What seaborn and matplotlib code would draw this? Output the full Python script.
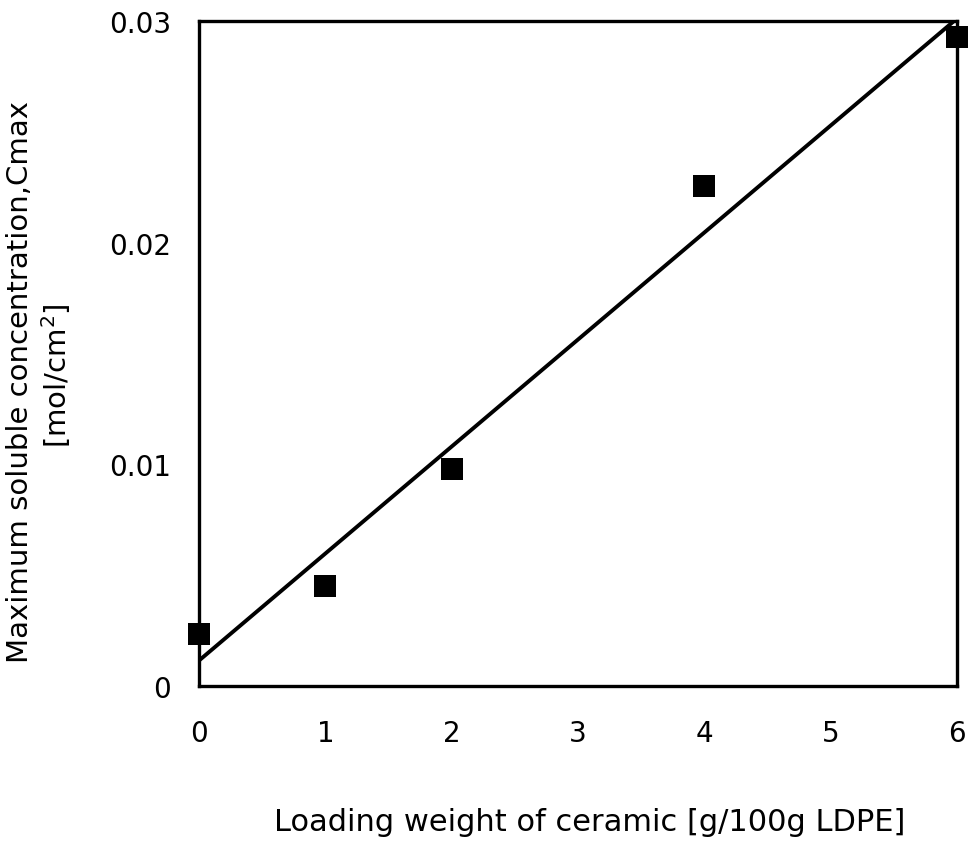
import matplotlib
matplotlib.use("Agg")
import matplotlib.pyplot as plt
import seaborn as sns
import pandas as pd

loading = [0, 1, 2, 4, 6]
cmax = [0.00235, 0.0045, 0.0098, 0.02255, 0.0293]
xticks = [0, 1, 2, 3, 4, 5, 6]
yticks = [0, 0.01, 0.02, 0.03]
ytick_labels = ["0", "0.01", "0.02", "0.03"]

sns.set_theme(style="white")
plt.rcParams['font.family'] = ['DejaVu Sans']

df = pd.DataFrame({"x": loading, "y": cmax})

fig = plt.figure(figsize=(9.71, 8.54), dpi=100)
ax = fig.add_axes([0.205, 0.1956, 0.7806, 0.7786])

sns.regplot(data=df, x="x", y="y", ax=ax, ci=None, marker="s", color="black",
            scatter_kws={"s": 240, "edgecolor": "black", "linewidths": 0, "alpha": 1, "zorder": 3, "clip_on": False},
            line_kws={"lw": 2.8, "color": "black"}, truncate=True)

ax.set_xlim(0, 6)
ax.set_ylim(0, 0.03)
ax.set_xticks(xticks)
ax.set_xticklabels([str(t) for t in xticks])
ax.set_yticks(yticks)
ax.set_yticklabels(ytick_labels)
ax.tick_params(axis="x", direction="in", length=5, width=1.2, pad=24, labelsize=20, colors="black")
ax.tick_params(axis="y", direction="in", length=5, width=1.2, pad=20, labelsize=20, colors="black")
for s in ax.spines.values():
    s.set_linewidth(2.4)
    s.set_color("black")

ax.set_xlabel("Loading weight of ceramic [g/100g LDPE]", fontsize=22, color="black")
ax.xaxis.set_label_coords(0.516, -0.182)
ax.set_ylabel("Maximum soluble concentration,Cmax", fontsize=21, color="black")
ax.yaxis.set_label_coords(-0.2175, 0.459)
ax.text(-0.166, 0.468, "[mol/cm$^2$]", transform=ax.transAxes, rotation=90,
        ha="right", va="center", fontsize=21, color="black")

fig.savefig("out.png", dpi=100, facecolor="white")
